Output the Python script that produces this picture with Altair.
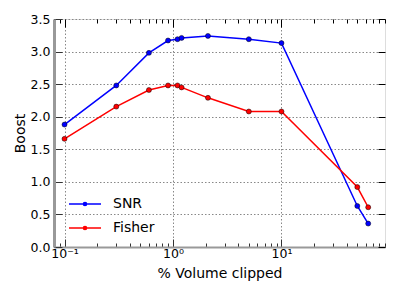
import altair as alt
import pandas as pd

# ---- data ----
x_vals = [0.1, 0.3, 0.6, 0.9, 1.1, 1.2, 2.1, 5, 10, 50, 63]
snr = [1.88, 2.48, 2.98, 3.17, 3.19, 3.21, 3.24, 3.19, 3.13, 0.63, 0.36]
fisher = [1.66, 2.155, 2.41, 2.48, 2.48, 2.45, 2.29, 2.08, 2.08, 0.92, 0.61]
series = ["SNR", "Fisher"]
colors = ["#0000ff", "#ff0000"]
major_ticks = [0.1, 1, 10]
major_labels = ["10⁻¹", "10⁰", "10¹"]
minor_ticks = [0.08, 0.09, 0.2, 0.3, 0.4, 0.5, 0.6, 0.7, 0.8, 0.9,
               2, 3, 4, 5, 6, 7, 8, 9, 20, 30, 40, 50, 60, 70, 80, 90]
y_ticks = [0, 0.5, 1.0, 1.5, 2.0, 2.5, 3.0, 3.5]
x_domain = [0.08, 90]
y_domain = [0, 3.5]

rows = []
for name, vals in zip(series, [snr, fisher]):
    for xv, yv in zip(x_vals, vals):
        rows.append({"x": xv, "y": yv, "series": name})
df = pd.DataFrame(rows)

FONT = "DejaVu Sans"
is_major = " || ".join(f"datum.value == {v}" for v in major_ticks)
label_expr = "".join(f"datum.value == {v} ? '{l}' : " for v, l in zip(major_ticks, major_labels)) + "''"
all_x_ticks = sorted(major_ticks + minor_ticks)

color_scale = alt.Scale(domain=series, range=colors)
xs = alt.Scale(type="log", domain=x_domain, nice=False)
ys = alt.Scale(domain=y_domain, nice=False, zero=False)

x_bottom = alt.Axis(
    orient="bottom", values=all_x_ticks, labelExpr=label_expr, labelOverlap=False,
    title="% Volume clipped", grid=True, gridDash=[1.5, 2], gridColor="#888",
    gridOpacity={"condition": {"test": is_major, "value": 1}, "value": 0},
    tickSize={"condition": {"test": is_major, "value": -8}, "value": -4},
    tickColor="#333", domainColor="#999", domainWidth=2,
    labelFont=FONT, labelFontSize=12.5, labelColor="black", labelPadding=8,
    titleFont=FONT, titleFontSize=14, titleFontWeight="normal", titleColor="black",
    titlePadding=3,
)
y_left = alt.Axis(
    orient="left", values=y_ticks, format=".1f", title="Boost",
    grid=True, gridDash=[1.5, 2], gridColor="#888",
    tickSize={"expr": "-8"}, tickColor="#333", domainColor="#999", domainWidth=3,
    labelFont=FONT, labelFontSize=12.5, labelColor="black", labelPadding=12,
    titleFont=FONT, titleFontSize=14, titleFontWeight="normal", titleColor="black",
    titlePadding=3,
)
x_top = alt.Axis(
    orient="top", values=all_x_ticks, labels=False, domain=False, grid=False, title=None,
    tickSize={"condition": {"test": is_major, "value": -8}, "value": -4}, tickColor="black",
)
y_right = alt.Axis(
    orient="right", values=y_ticks, labels=False, domain=False, grid=False, title=None,
    tickSize={"expr": "-7"}, tickColor="black",
)

legend = alt.Legend(
    title=None, orient="none", legendX=14, legendY=168,
    symbolType="M-1,0H1M-0.1,0A0.1,0.1,0,1,0,0.1,0A0.1,0.1,0,1,0,-0.1,0ZM-0.05,0A0.05,0.05,0,1,0,0.05,0A0.05,0.05,0,1,0,-0.05,0Z",
    symbolSize=1024, symbolStrokeWidth=1.5, rowPadding=-9, labelOffset=11,
    labelFont=FONT, labelFontSize=14, labelColor="black", padding=0,
)

lines = alt.Chart(df).mark_line(strokeWidth=1.5, clip=True).encode(
    x=alt.X("x:Q", scale=xs, axis=x_bottom),
    y=alt.Y("y:Q", scale=ys, axis=y_left),
    color=alt.Color("series:N", scale=color_scale, legend=legend, sort=series),
    detail="series:N",
)
points = alt.Chart(df).mark_circle(size=25, opacity=1, stroke="black", strokeWidth=0.5, clip=True).encode(
    x=alt.X("x:Q", scale=xs, axis=x_top),
    y=alt.Y("y:Q", scale=ys, axis=y_right),
    color=alt.Color("series:N", scale=color_scale, legend=None),
)

chart = alt.layer(lines, points).resolve_axis(x="independent", y="independent").properties(
    width=331, height=228,
    autosize=alt.AutoSizeParams(type="none"),
    padding={"left": 46, "top": 11, "right": 6, "bottom": 44},
).configure_view(stroke="black", strokeWidth=1).configure(background="white")

chart.save("out.html", embed_options={"renderer": "svg", "actions": False})
